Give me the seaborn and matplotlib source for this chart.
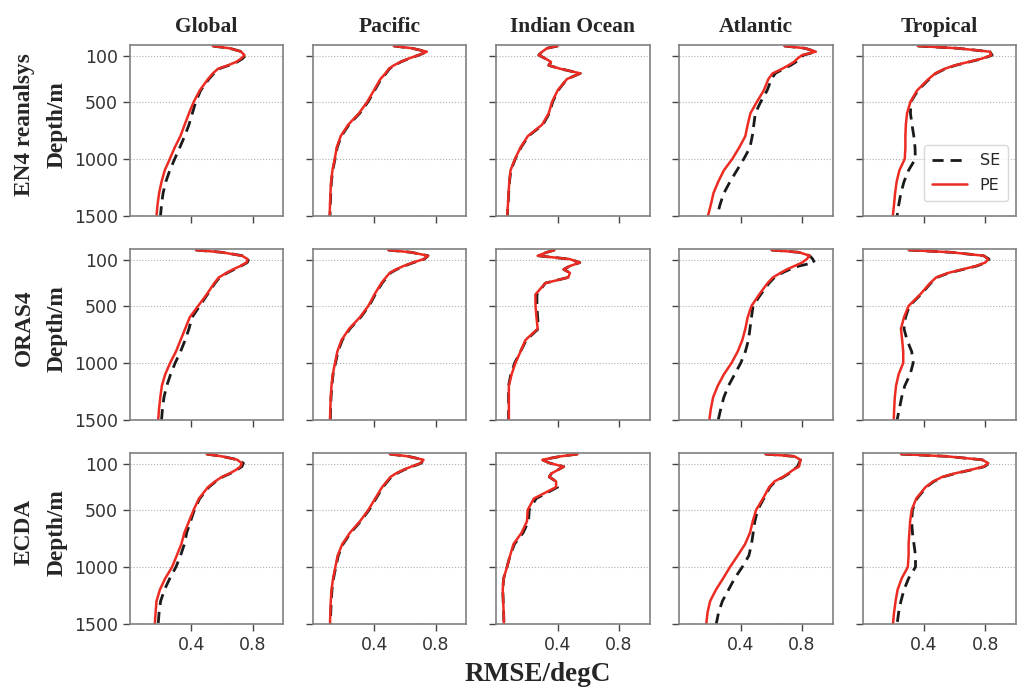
import numpy as np
import matplotlib.pyplot as plt
import seaborn as sns

sns.set_style("white")
plt.rcParams['font.family'] = ['DejaVu Sans']

regions = ["Global", "Pacific", "Indian Ocean", "Atlantic", "Tropical"]
products = ["EN4 reanalsys", "ORAS4", "ECDA"]

depth = [10, 30, 60, 90, 120, 150, 180, 210, 250, 300, 400, 500,
         600, 700, 800, 900, 1000, 1100, 1200, 1300, 1400, 1500]

# RMSE (degC) per region along depth, PE = red solid, SE = black dashed
en4_pe = {
    "Global": [0.54, 0.65, 0.725, 0.747, 0.725, 0.693, 0.638, 0.574, 0.541, 0.509, 0.455, 0.416,
               0.385, 0.357, 0.329, 0.292, 0.26, 0.227, 0.206, 0.19, 0.18, 0.173],
    "Pacific": [0.526, 0.645, 0.742, 0.688, 0.623, 0.569, 0.526, 0.494, 0.472, 0.439, 0.396, 0.353,
                0.299, 0.229, 0.18, 0.154, 0.141, 0.126, 0.117, 0.113, 0.11, 0.108],
    "Indian Ocean": [0.40, 0.331, 0.299, 0.277, 0.32, 0.357, 0.342, 0.418, 0.548, 0.461, 0.40, 0.364,
                     0.342, 0.299, 0.206, 0.158, 0.122, 0.093, 0.085, 0.08, 0.076, 0.071],
    "Atlantic": [0.684, 0.82, 0.89, 0.80, 0.77, 0.747, 0.71, 0.67, 0.608, 0.58, 0.55, 0.505,
                 0.463, 0.445, 0.43, 0.39, 0.345, 0.29, 0.253, 0.222, 0.205, 0.186],
    "Tropical": [0.36, 0.62, 0.83, 0.84, 0.78, 0.69, 0.60, 0.535, 0.474, 0.43, 0.355, 0.312,
                 0.29, 0.282, 0.279, 0.279, 0.275, 0.24, 0.222, 0.212, 0.205, 0.197],
}
en4_se = {
    "Global": [0.54, 0.65, 0.73, 0.755, 0.735, 0.70, 0.645, 0.58, 0.548, 0.515, 0.461, 0.429,
               0.407, 0.385, 0.357, 0.325, 0.292, 0.26, 0.234, 0.216, 0.206, 0.199],
    "Pacific": [0.526, 0.645, 0.742, 0.69, 0.625, 0.572, 0.53, 0.498, 0.476, 0.443, 0.401, 0.358,
                0.304, 0.234, 0.184, 0.157, 0.143, 0.128, 0.119, 0.115, 0.112, 0.11],
    "Indian Ocean": [0.40, 0.331, 0.299, 0.277, 0.32, 0.357, 0.342, 0.418, 0.548, 0.461, 0.403, 0.368,
                     0.346, 0.304, 0.21, 0.161, 0.124, 0.095, 0.086, 0.081, 0.077, 0.072],
    "Atlantic": [0.684, 0.82, 0.89, 0.81, 0.785, 0.76, 0.725, 0.68, 0.625, 0.60, 0.572, 0.53,
                 0.495, 0.485, 0.475, 0.46, 0.42, 0.375, 0.33, 0.29, 0.265, 0.245],
    "Tropical": [0.36, 0.62, 0.83, 0.845, 0.785, 0.695, 0.605, 0.54, 0.478, 0.435, 0.36, 0.315,
                 0.312, 0.322, 0.334, 0.342, 0.344, 0.30, 0.27, 0.25, 0.236, 0.225],
}

oras4_pe = {
    "Global": [0.43, 0.60, 0.73, 0.768, 0.76, 0.72, 0.672, 0.63, 0.58, 0.55, 0.50, 0.445,
               0.39, 0.36, 0.33, 0.30, 0.262, 0.23, 0.208, 0.198, 0.19, 0.184],
    "Pacific": [0.49, 0.64, 0.75, 0.72, 0.65, 0.59, 0.54, 0.50, 0.475, 0.445, 0.40, 0.36,
                0.305, 0.235, 0.185, 0.158, 0.143, 0.128, 0.12, 0.115, 0.112, 0.11],
    "Indian Ocean": [0.38, 0.33, 0.27, 0.48, 0.545, 0.48, 0.44, 0.48, 0.47, 0.32, 0.255, 0.256,
                     0.262, 0.27, 0.19, 0.158, 0.125, 0.10, 0.082, 0.082, 0.082, 0.082],
    "Atlantic": [0.60, 0.78, 0.85, 0.83, 0.80, 0.75, 0.70, 0.66, 0.61, 0.575, 0.52, 0.47,
                 0.445, 0.43, 0.41, 0.38, 0.34, 0.29, 0.25, 0.22, 0.205, 0.195],
    "Tropical": [0.30, 0.58, 0.79, 0.82, 0.80, 0.74, 0.65, 0.56, 0.48, 0.44, 0.375, 0.30,
                 0.27, 0.25, 0.258, 0.265, 0.265, 0.235, 0.218, 0.21, 0.206, 0.203],
}
oras4_se = {
    "Global": [0.43, 0.60, 0.735, 0.775, 0.765, 0.725, 0.68, 0.635, 0.585, 0.555, 0.505, 0.455,
               0.405, 0.385, 0.36, 0.33, 0.295, 0.265, 0.24, 0.222, 0.212, 0.206],
    "Pacific": [0.49, 0.64, 0.75, 0.725, 0.655, 0.595, 0.545, 0.505, 0.48, 0.45, 0.405, 0.365,
                0.31, 0.24, 0.19, 0.162, 0.146, 0.13, 0.122, 0.117, 0.114, 0.112],
    "Indian Ocean": [0.38, 0.33, 0.27, 0.48, 0.545, 0.48, 0.44, 0.48, 0.47, 0.32, 0.265, 0.265,
                     0.27, 0.275, 0.195, 0.158, 0.12, 0.095, 0.08, 0.08, 0.08, 0.08],
    "Atlantic": [0.60, 0.78, 0.85, 0.87, 0.88, 0.78, 0.72, 0.67, 0.62, 0.585, 0.53, 0.48,
                 0.47, 0.46, 0.45, 0.43, 0.40, 0.36, 0.32, 0.29, 0.27, 0.253],
    "Tropical": [0.30, 0.58, 0.79, 0.825, 0.805, 0.745, 0.655, 0.565, 0.485, 0.445, 0.38, 0.305,
                 0.28, 0.27, 0.29, 0.32, 0.33, 0.31, 0.275, 0.255, 0.24, 0.225],
}

ecda_pe = {
    "Global": [0.50, 0.60, 0.70, 0.73, 0.72, 0.69, 0.65, 0.60, 0.555, 0.509, 0.45, 0.415,
               0.385, 0.355, 0.335, 0.305, 0.275, 0.23, 0.195, 0.173, 0.167, 0.162],
    "Pacific": [0.50, 0.62, 0.72, 0.70, 0.64, 0.585, 0.54, 0.505, 0.48, 0.45, 0.405, 0.36,
                0.305, 0.24, 0.19, 0.16, 0.145, 0.13, 0.12, 0.115, 0.112, 0.11],
    "Indian Ocean": [0.53, 0.42, 0.30, 0.35, 0.44, 0.40, 0.36, 0.345, 0.39, 0.39, 0.245, 0.205,
                     0.20, 0.165, 0.112, 0.09, 0.07, 0.048, 0.042, 0.045, 0.048, 0.05],
    "Atlantic": [0.56, 0.75, 0.79, 0.785, 0.78, 0.74, 0.71, 0.675, 0.62, 0.585, 0.545, 0.50,
                 0.478, 0.46, 0.428, 0.38, 0.33, 0.285, 0.238, 0.20, 0.183, 0.175],
    "Tropical": [0.25, 0.55, 0.78, 0.82, 0.79, 0.70, 0.60, 0.52, 0.46, 0.41, 0.35, 0.32,
                 0.31, 0.305, 0.30, 0.30, 0.295, 0.255, 0.228, 0.215, 0.205, 0.198],
}
ecda_se = {
    "Global": [0.50, 0.60, 0.705, 0.74, 0.73, 0.695, 0.655, 0.605, 0.56, 0.515, 0.455, 0.42,
               0.395, 0.37, 0.355, 0.33, 0.30, 0.26, 0.225, 0.20, 0.19, 0.184],
    "Pacific": [0.50, 0.62, 0.72, 0.705, 0.645, 0.59, 0.545, 0.51, 0.485, 0.455, 0.41, 0.365,
                0.31, 0.245, 0.195, 0.164, 0.148, 0.133, 0.123, 0.118, 0.115, 0.113],
    "Indian Ocean": [0.53, 0.42, 0.30, 0.35, 0.44, 0.40, 0.36, 0.345, 0.39, 0.40, 0.26, 0.215,
                     0.21, 0.175, 0.118, 0.09, 0.07, 0.048, 0.042, 0.045, 0.048, 0.05],
    "Atlantic": [0.56, 0.75, 0.79, 0.78, 0.77, 0.74, 0.715, 0.68, 0.625, 0.59, 0.55, 0.51,
                 0.492, 0.481, 0.47, 0.453, 0.41, 0.36, 0.32, 0.28, 0.255, 0.24],
    "Tropical": [0.25, 0.55, 0.78, 0.825, 0.795, 0.705, 0.605, 0.525, 0.465, 0.415, 0.355, 0.325,
                 0.32, 0.325, 0.335, 0.345, 0.345, 0.30, 0.27, 0.25, 0.235, 0.225],
}

pe_rows = [en4_pe, oras4_pe, ecda_pe]
se_rows = [en4_se, oras4_se, ecda_se]

red = "#ec2b22"
serif = ['Liberation Serif', 'DejaVu Serif']

fig, axes = plt.subplots(3, 5, figsize=(10.21, 6.9), dpi=100, sharex=True, sharey=True)
fig.subplots_adjust(left=0.1273, right=0.995, top=0.935, bottom=0.0957,
                    wspace=0.195, hspace=0.193)

for i in range(3):
    for j, reg in enumerate(regions):
        ax = axes[i, j]
        sns.lineplot(x=se_rows[i][reg], y=depth, sort=False, estimator=None, ax=ax,
                     color="#1a1a1a", linewidth=2, linestyle=(0, (4, 2.5)), label="SE")
        sns.lineplot(x=pe_rows[i][reg], y=depth, sort=False, estimator=None, ax=ax,
                     color=red, linewidth=1.8, label="PE")
        ax.set_xlim(0, 1.0)
        ax.set_ylim(1500, 0)
        ax.set_xticks([0.4, 0.8])
        ax.set_yticks([100, 500, 1000, 1500])
        ax.yaxis.grid(True, linestyle=":", color="#b0b0b0", linewidth=0.8)
        for s in ax.spines.values():
            s.set_color("#808080")
            s.set_linewidth(1.2)
        ax.tick_params(direction="out", length=5, width=1, color="#444444",
                       labelsize=12.5, labelcolor="#333333", left=True, bottom=True)
        ax.set_xlabel("")
        ax.set_ylabel("")
        if i == 0:
            ax.set_title(reg, fontsize=15.5, fontweight="bold", family=serif, pad=9)
        if i == 0 and j == 4:
            ax.legend(loc="lower right", fontsize=11.5, handlelength=2.2,
                      borderpad=0.5, labelspacing=0.6, frameon=True,
                      edgecolor="#d0d0d0", bbox_to_anchor=(1.0, 0.04))
        else:
            ax.get_legend().remove()

for i, prod in enumerate(products):
    pos = axes[i, 0].get_position()
    yc = (pos.y0 + pos.y1) / 2 + 0.009
    fig.text(0.024, yc, prod, rotation=90, ha="center", va="center",
             fontsize=16.8, fontweight="bold", family=serif)
    fig.text(0.056, yc, "Depth/m", rotation=90, ha="center", va="center",
             fontsize=16.8, fontweight="bold", family=serif)

fig.text(0.527, 0.022, "RMSE/degC", ha="center", va="center",
         fontsize=19.5, fontweight="bold", family=serif)

fig.savefig("out.png", dpi=100)
